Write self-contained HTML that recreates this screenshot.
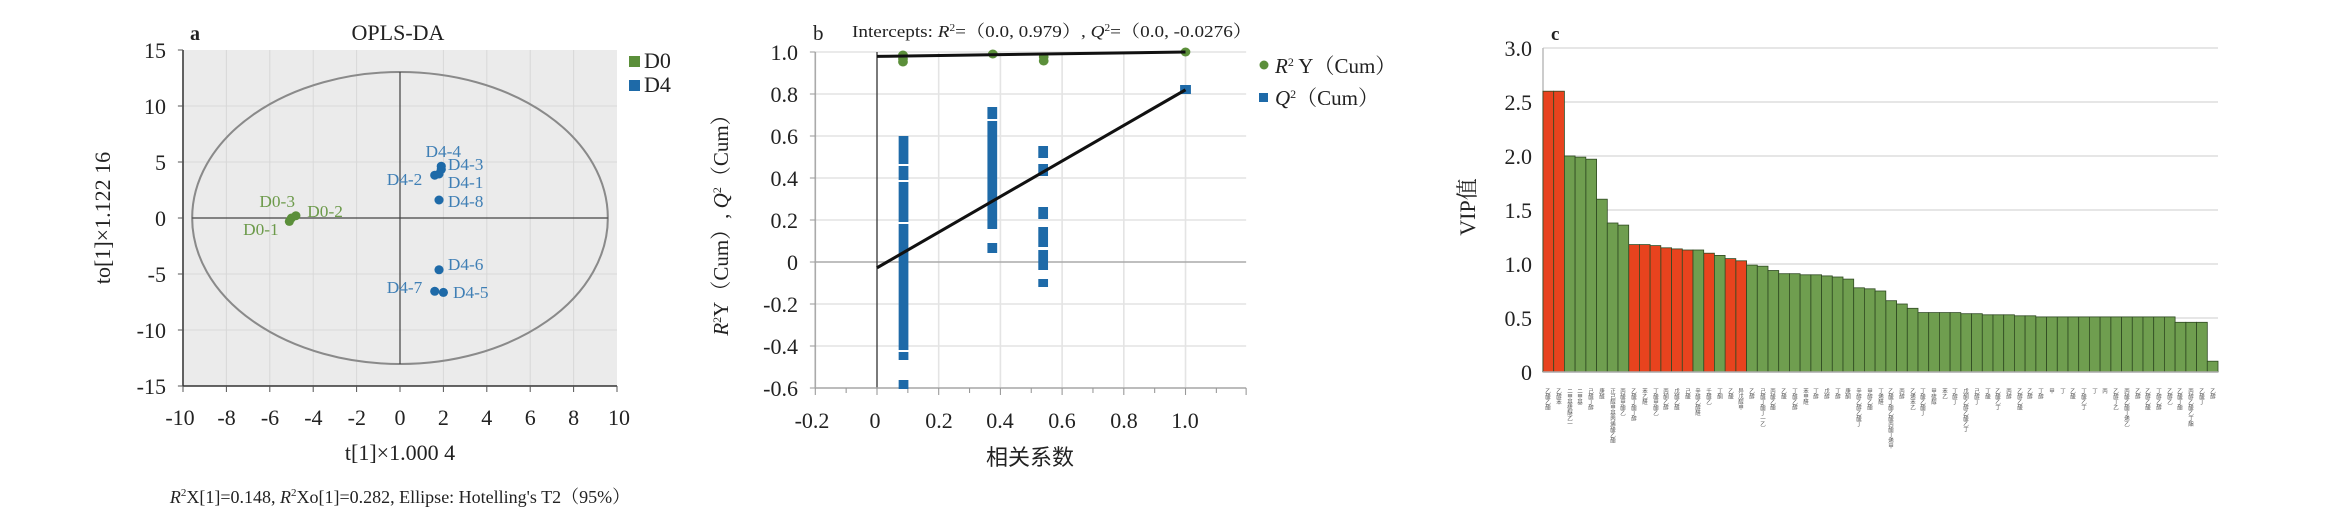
<!DOCTYPE html>
<html><head><meta charset="utf-8"><style>html,body{margin:0;padding:0;background:#fff}svg{display:block}</style></head><body>
<svg width="2330" height="508" viewBox="0 0 2330 508" xmlns="http://www.w3.org/2000/svg" font-family="'Liberation Serif','Noto Serif CJK SC',serif">
<!-- Panel a -->
<g transform="translate(400,0) scale(1.0188,1) translate(-399,0)">
<rect x="186" y="50" width="426" height="336" fill="#ebebeb"/>
<g stroke="#d8d8d8" stroke-width="1">
<line x1="228.6" y1="50" x2="228.6" y2="386"/><line x1="271.2" y1="50" x2="271.2" y2="386"/><line x1="313.8" y1="50" x2="313.8" y2="386"/><line x1="356.4" y1="50" x2="356.4" y2="386"/><line x1="441.6" y1="50" x2="441.6" y2="386"/><line x1="484.2" y1="50" x2="484.2" y2="386"/><line x1="526.8" y1="50" x2="526.8" y2="386"/><line x1="569.4" y1="50" x2="569.4" y2="386"/>
<line x1="186" y1="106" x2="612" y2="106"/><line x1="186" y1="162" x2="612" y2="162"/><line x1="186" y1="274" x2="612" y2="274"/><line x1="186" y1="330" x2="612" y2="330"/>
</g>
<ellipse cx="399" cy="218" rx="204" ry="146" fill="none" stroke="#8a8a8a" stroke-width="2"/>
<line x1="195" y1="218" x2="603" y2="218" stroke="#444" stroke-width="1.2"/>
<line x1="399" y1="72" x2="399" y2="364" stroke="#444" stroke-width="1.2"/>
<line x1="186" y1="50" x2="186" y2="386" stroke="#333" stroke-width="1.5"/>
<line x1="186" y1="386" x2="612" y2="386" stroke="#333" stroke-width="1.5"/>
<g stroke="#555">
<line x1="181" y1="50" x2="186" y2="50"/><line x1="181" y1="106" x2="186" y2="106"/><line x1="181" y1="162" x2="186" y2="162"/><line x1="181" y1="218" x2="186" y2="218"/><line x1="181" y1="274" x2="186" y2="274"/><line x1="181" y1="330" x2="186" y2="330"/><line x1="181" y1="386" x2="186" y2="386"/>
<line x1="186" y1="386" x2="186" y2="392"/><line x1="228.6" y1="386" x2="228.6" y2="392"/><line x1="271.2" y1="386" x2="271.2" y2="392"/><line x1="313.8" y1="386" x2="313.8" y2="392"/><line x1="356.4" y1="386" x2="356.4" y2="392"/><line x1="399" y1="386" x2="399" y2="392"/><line x1="441.6" y1="386" x2="441.6" y2="392"/><line x1="484.2" y1="386" x2="484.2" y2="392"/><line x1="526.8" y1="386" x2="526.8" y2="392"/><line x1="569.4" y1="386" x2="569.4" y2="392"/><line x1="612" y1="386" x2="612" y2="392"/>
</g>
<g fill="#5b8f3a"><circle cx="292.5" cy="218" r="4.5"/><circle cx="296.8" cy="215.7" r="4.5"/><circle cx="290.4" cy="221.4" r="4.5"/></g>
<g fill="#1e6aa8"><circle cx="439.5" cy="166.2" r="4.5"/><circle cx="439.5" cy="169.5" r="4.5"/><circle cx="433.1" cy="175.2" r="4.5"/><circle cx="437.3" cy="174" r="4.5"/><circle cx="437.3" cy="200" r="4.5"/><circle cx="437.3" cy="269.8" r="4.5"/><circle cx="433.1" cy="291.3" r="4.5"/><circle cx="441.6" cy="292.4" r="4.5"/></g>
<g font-size="17" fill="#3f7fb5">
<text x="424" y="157">D4-4</text><text x="446" y="170">D4-3</text><text x="386" y="185">D4-2</text><text x="446" y="188">D4-1</text><text x="446" y="207">D4-8</text><text x="446" y="270">D4-6</text><text x="386" y="293">D4-7</text><text x="451" y="298">D4-5</text>
</g>
<g font-size="17" fill="#6c9a4a"><text x="261" y="207">D0-3</text><text x="308" y="217">D0-2</text><text x="245" y="235">D0-1</text></g>
</g>
<g font-size="22" fill="#222" text-anchor="end">
<text x="166" y="58">15</text><text x="166" y="114">10</text><text x="166" y="170">5</text><text x="166" y="226">0</text><text x="166" y="282">-5</text><text x="166" y="338">-10</text><text x="166" y="394">-15</text>
</g>
<g font-size="22" fill="#222" text-anchor="middle">
<text x="180" y="425">-10</text><text x="226.6" y="425">-8</text><text x="270" y="425">-6</text><text x="313.4" y="425">-4</text><text x="356.8" y="425">-2</text><text x="400" y="425">0</text><text x="443.4" y="425">2</text><text x="486.8" y="425">4</text><text x="530.2" y="425">6</text><text x="573.6" y="425">8</text><text x="619" y="425">10</text>
<text x="400" y="460">t[1]×1.000 4</text>
<text x="398" y="40">OPLS-DA</text>
</g>
<text x="190" y="40" font-size="20" font-weight="bold" fill="#222">a</text>
<text transform="translate(110,218) rotate(-90)" font-size="22" text-anchor="middle" fill="#222">to[1]×1.122 16</text>
<text x="400" y="503" font-size="18" text-anchor="middle" fill="#222"><tspan font-style="italic">R</tspan><tspan font-size="11" dy="-7">2</tspan><tspan dy="7">X[1]=0.148, </tspan><tspan font-style="italic">R</tspan><tspan font-size="11" dy="-7">2</tspan><tspan dy="7">Xo[1]=0.282, Ellipse: Hotelling's T2（95%）</tspan></text>
<rect x="629" y="56" width="11" height="11" fill="#5b8f3a"/><rect x="629" y="80" width="11" height="11" fill="#1e6aa8"/>
<text x="644" y="68" font-size="22" fill="#222">D0</text><text x="644" y="92" font-size="22" fill="#222">D4</text>

<!-- Panel b -->
<g transform="translate(877,0) scale(1.0825,1) translate(-861,0)">
<g stroke="#e4e4e4" stroke-width="1.5">
<line x1="804" y1="52" x2="1202" y2="52"/><line x1="804" y1="94" x2="1202" y2="94"/><line x1="804" y1="136" x2="1202" y2="136"/><line x1="804" y1="178" x2="1202" y2="178"/><line x1="804" y1="220" x2="1202" y2="220"/><line x1="804" y1="304" x2="1202" y2="304"/><line x1="804" y1="346" x2="1202" y2="346"/><line x1="804" y1="388" x2="1202" y2="388"/>
<line x1="918" y1="52" x2="918" y2="388"/><line x1="975" y1="52" x2="975" y2="388"/><line x1="1032" y1="52" x2="1032" y2="388"/><line x1="1089" y1="52" x2="1089" y2="388"/><line x1="1146" y1="52" x2="1146" y2="388"/>
</g>
<line x1="804" y1="262" x2="1202" y2="262" stroke="#aaa" stroke-width="1.5"/>
<line x1="861" y1="52" x2="861" y2="388" stroke="#333" stroke-width="1.2"/>
<line x1="804" y1="52" x2="804" y2="388" stroke="#aaa" stroke-width="1.5"/>
<line x1="804" y1="388" x2="1202" y2="388" stroke="#aaa" stroke-width="1.5"/>
<g stroke="#999"><line x1="799" y1="52" x2="804" y2="52"/><line x1="799" y1="94" x2="804" y2="94"/><line x1="799" y1="136" x2="804" y2="136"/><line x1="799" y1="178" x2="804" y2="178"/><line x1="799" y1="220" x2="804" y2="220"/><line x1="799" y1="262" x2="804" y2="262"/><line x1="799" y1="304" x2="804" y2="304"/><line x1="799" y1="346" x2="804" y2="346"/><line x1="799" y1="388" x2="804" y2="388"/>
<line x1="804" y1="388" x2="804" y2="395"/><line x1="832.5" y1="388" x2="832.5" y2="393"/><line x1="861" y1="388" x2="861" y2="395"/><line x1="889.5" y1="388" x2="889.5" y2="393"/><line x1="918" y1="388" x2="918" y2="395"/><line x1="946.5" y1="388" x2="946.5" y2="393"/><line x1="975" y1="388" x2="975" y2="395"/><line x1="1003.5" y1="388" x2="1003.5" y2="393"/><line x1="1032" y1="388" x2="1032" y2="395"/><line x1="1060.5" y1="388" x2="1060.5" y2="393"/><line x1="1089" y1="388" x2="1089" y2="395"/><line x1="1117.5" y1="388" x2="1117.5" y2="393"/><line x1="1146" y1="388" x2="1146" y2="395"/><line x1="1174.5" y1="388" x2="1174.5" y2="393"/><line x1="1202" y1="388" x2="1202" y2="395"/></g>
<g fill="#1e6aa8">
<rect x="881" y="136" width="9" height="28"/><rect x="881" y="166" width="9" height="14"/><rect x="881" y="182" width="9" height="40"/><rect x="881" y="224" width="9" height="126"/><rect x="881" y="352" width="9" height="8"/><rect x="881" y="380" width="9" height="9"/>
<rect x="963" y="107" width="9" height="12"/><rect x="963" y="121" width="9" height="108"/><rect x="963" y="243" width="9" height="10"/>
<rect x="1010" y="146" width="9" height="12"/><rect x="1010" y="164" width="9" height="12"/><rect x="1010" y="207" width="9" height="12"/><rect x="1010" y="227" width="9" height="20"/><rect x="1010" y="250" width="9" height="20"/><rect x="1010" y="279" width="9" height="8"/>
<rect x="1141" y="85" width="10" height="9"/>
</g>
<g fill="#5b8f3a">
<circle cx="885" cy="55" r="4.5"/><circle cx="885" cy="59" r="4.5"/><circle cx="885" cy="62" r="4.5"/><circle cx="968" cy="54" r="4.5"/><circle cx="1015" cy="57" r="4.5"/><circle cx="1015" cy="61" r="4.5"/><circle cx="1146" cy="52" r="4.5"/>
</g>
<line x1="861" y1="56.4" x2="1146" y2="52" stroke="#111" stroke-width="3"/>
<line x1="861" y1="267.8" x2="1146" y2="89.8" stroke="#111" stroke-width="3"/>
</g>
<g font-size="22" fill="#222" text-anchor="end">
<text x="798" y="60">1.0</text><text x="798" y="102">0.8</text><text x="798" y="144">0.6</text><text x="798" y="186">0.4</text><text x="798" y="228">0.2</text><text x="798" y="270">0</text><text x="798" y="312">-0.2</text><text x="798" y="354">-0.4</text><text x="798" y="396">-0.6</text>
</g>
<g font-size="22" fill="#222" text-anchor="middle">
<text x="812" y="428">-0.2</text><text x="875" y="428">0</text><text x="939" y="428">0.2</text><text x="1000" y="428">0.4</text><text x="1062" y="428">0.6</text><text x="1124" y="428">0.8</text><text x="1185" y="428">1.0</text>
<text x="1030" y="465" font-family="'Noto Sans CJK SC',sans-serif" font-size="22">相关系数</text>
</g>
<text x="813" y="40" font-size="21" fill="#222">b</text>
<text x="852" y="37" font-size="17" fill="#222" textLength="400" lengthAdjust="spacingAndGlyphs">Intercepts: <tspan font-style="italic">R</tspan><tspan font-size="10" dy="-6">2</tspan><tspan dy="6">=（0.0, 0.979）, </tspan><tspan font-style="italic">Q</tspan><tspan font-size="10" dy="-6">2</tspan><tspan dy="6">=（0.0, -0.0276）</tspan></text>
<text transform="translate(728,220) rotate(-90)" font-size="21" text-anchor="middle" fill="#222"><tspan font-style="italic">R</tspan><tspan font-size="12" dy="-7">2</tspan><tspan dy="7">Y（Cum）, </tspan><tspan font-style="italic">Q</tspan><tspan font-size="12" dy="-7">2</tspan><tspan dy="7">（Cum）</tspan></text>
<circle cx="1264" cy="65" r="4.5" fill="#5b8f3a"/><rect x="1259" y="93" width="9" height="9" fill="#1e6aa8"/>
<text x="1275" y="73" font-size="21" fill="#222"><tspan font-style="italic">R</tspan><tspan font-size="12" dy="-7">2</tspan><tspan dy="7"> Y（Cum）</tspan></text>
<text x="1275" y="105" font-size="21" fill="#222"><tspan font-style="italic">Q</tspan><tspan font-size="12" dy="-7">2</tspan><tspan dy="7">（Cum）</tspan></text>

<!-- Panel c -->
<g stroke="#e6e6e6" stroke-width="2">
<line x1="1543" y1="48" x2="2218" y2="48"/><line x1="1543" y1="102" x2="2218" y2="102"/><line x1="1543" y1="156" x2="2218" y2="156"/><line x1="1543" y1="210" x2="2218" y2="210"/><line x1="1543" y1="264" x2="2218" y2="264"/><line x1="1543" y1="318" x2="2218" y2="318"/>
</g>
<line x1="1543" y1="48" x2="1543" y2="372" stroke="#bbb" stroke-width="1.5"/>
<g stroke="#2f4a22" stroke-width="0.8">
<g fill="#e8431e">
<rect x="1543.0" y="91.2" width="10.7" height="280.8"/><rect x="1553.7" y="91.2" width="10.7" height="280.8"/>
<rect x="1628.7" y="244.6" width="10.7" height="127.4"/><rect x="1639.4" y="244.6" width="10.7" height="127.4"/><rect x="1650.1" y="245.6" width="10.7" height="126.4"/><rect x="1660.9" y="247.8" width="10.7" height="124.2"/><rect x="1671.6" y="248.9" width="10.7" height="123.1"/><rect x="1682.3" y="250" width="10.7" height="122"/>
<rect x="1703.7" y="253.2" width="10.7" height="118.8"/>
<rect x="1725.1" y="258.6" width="10.7" height="113.4"/><rect x="1735.9" y="260.8" width="10.7" height="111.2"/>
</g>
<g fill="#6f9e4f">
<rect x="1564.4" y="156" width="10.7" height="216"/><rect x="1575.1" y="157.1" width="10.7" height="214.9"/><rect x="1585.9" y="159.2" width="10.7" height="212.8"/><rect x="1596.6" y="199.2" width="10.7" height="172.8"/><rect x="1607.3" y="223" width="10.7" height="149"/><rect x="1618.0" y="225.1" width="10.7" height="146.9"/>
<rect x="1693.0" y="250" width="10.7" height="122"/><rect x="1714.4" y="255.4" width="10.7" height="116.6"/>
<rect x="1746.6" y="265.1" width="10.7" height="106.9"/><rect x="1757.3" y="266.2" width="10.7" height="105.8"/><rect x="1768.0" y="270.5" width="10.7" height="101.5"/><rect x="1778.7" y="273.7" width="10.7" height="98.3"/><rect x="1789.4" y="273.7" width="10.7" height="98.3"/><rect x="1800.1" y="274.8" width="10.7" height="97.2"/><rect x="1810.9" y="274.8" width="10.7" height="97.2"/><rect x="1821.6" y="275.9" width="10.7" height="96.1"/><rect x="1832.3" y="277" width="10.7" height="95"/><rect x="1843.0" y="279.1" width="10.7" height="92.9"/>
<rect x="1853.7" y="287.8" width="10.7" height="84.2"/><rect x="1864.4" y="288.8" width="10.7" height="83.2"/><rect x="1875.1" y="291" width="10.7" height="81"/><rect x="1885.9" y="300.7" width="10.7" height="71.3"/><rect x="1896.6" y="304" width="10.7" height="68"/><rect x="1907.3" y="308.3" width="10.7" height="63.7"/>
<rect x="1918.0" y="312.6" width="10.7" height="59.4"/><rect x="1928.7" y="312.6" width="10.7" height="59.4"/><rect x="1939.4" y="312.6" width="10.7" height="59.4"/><rect x="1950.1" y="312.6" width="10.7" height="59.4"/><rect x="1960.9" y="313.7" width="10.7" height="58.3"/><rect x="1971.6" y="313.7" width="10.7" height="58.3"/>
<rect x="1982.3" y="314.8" width="10.7" height="57.2"/><rect x="1993.0" y="314.8" width="10.7" height="57.2"/><rect x="2003.7" y="314.8" width="10.7" height="57.2"/>
<rect x="2014.4" y="315.8" width="10.7" height="56.2"/><rect x="2025.1" y="315.8" width="10.7" height="56.2"/>
<rect x="2035.9" y="316.9" width="10.7" height="55.1"/><rect x="2046.6" y="316.9" width="10.7" height="55.1"/><rect x="2057.3" y="316.9" width="10.7" height="55.1"/><rect x="2068.0" y="316.9" width="10.7" height="55.1"/><rect x="2078.7" y="316.9" width="10.7" height="55.1"/><rect x="2089.4" y="316.9" width="10.7" height="55.1"/><rect x="2100.1" y="316.9" width="10.7" height="55.1"/><rect x="2110.9" y="316.9" width="10.7" height="55.1"/><rect x="2121.6" y="316.9" width="10.7" height="55.1"/><rect x="2132.3" y="316.9" width="10.7" height="55.1"/><rect x="2143.0" y="316.9" width="10.7" height="55.1"/><rect x="2153.7" y="316.9" width="10.7" height="55.1"/><rect x="2164.4" y="316.9" width="10.7" height="55.1"/>
<rect x="2175.1" y="322.3" width="10.7" height="49.7"/><rect x="2185.9" y="322.3" width="10.7" height="49.7"/><rect x="2196.6" y="322.3" width="10.7" height="49.7"/><rect x="2207.3" y="361.2" width="10.7" height="10.8"/>
</g>
</g>
<line x1="1543" y1="372" x2="2218" y2="372" stroke="#aaa" stroke-width="1.5"/>
<g font-size="22" fill="#222" text-anchor="end">
<text x="1532" y="56">3.0</text><text x="1532" y="110">2.5</text><text x="1532" y="164">2.0</text><text x="1532" y="218">1.5</text><text x="1532" y="272">1.0</text><text x="1532" y="326">0.5</text><text x="1532" y="380">0</text>
</g>
<text x="1551" y="40" font-size="19" font-weight="bold" fill="#222">c</text>
<text transform="translate(1475,207) rotate(-90)" font-size="22" text-anchor="middle" fill="#222">VIP<tspan font-family="'Noto Serif CJK SC',serif">值</tspan></text>
<g font-size="5.5" fill="#555" font-family="'Noto Sans CJK SC',sans-serif" writing-mode="tb">
<text x="1548" y="388">乙酸乙酯</text><text x="1559" y="388">乙醇苯</text><text x="1570" y="388">二甲基硫醚乙一</text><text x="1580" y="388">二甲基</text><text x="1591" y="388">己醛丁醇</text><text x="1602" y="388">庚醛</text><text x="1613" y="388">正己醇甲基丙烯酸乙酯</text><text x="1623" y="388">丙酸甲酯乙</text><text x="1634" y="388">乙酸丁酯丁醇</text><text x="1645" y="388">苯乙醛</text><text x="1656" y="388">丁酸甲酯乙</text><text x="1666" y="388">丙酮乙醇</text><text x="1677" y="388">戊醛乙醛</text><text x="1688" y="388">己酸</text><text x="1698" y="388">辛醛乙醇醛</text><text x="1709" y="388">壬醛乙</text><text x="1720" y="388">丁酮</text><text x="1731" y="388">乙酸</text><text x="1741" y="388">异戊醇甲</text><text x="1752" y="388">乙醇</text><text x="1763" y="388">己醛丁酯丁一乙</text><text x="1773" y="388">丙酸乙酯</text><text x="1784" y="388">乙酸</text><text x="1795" y="388">丁醛乙醇</text><text x="1806" y="388">苯甲醛</text><text x="1816" y="388">丁醇</text><text x="1827" y="388">戊醇</text><text x="1838" y="388">丁醇</text><text x="1848" y="388">庚酮</text><text x="1859" y="388">辛醇乙醇乙酸丁</text><text x="1870" y="388">甲醇乙酯</text><text x="1881" y="388">丁烯醛</text><text x="1891" y="388">乙酸丁酯乙酸丙酯丁烯甲</text><text x="1902" y="388">丙醇</text><text x="1913" y="388">乙烯苯乙</text><text x="1923" y="388">丁酸乙酯丁</text><text x="1934" y="388">甲硫醇</text><text x="1945" y="388">苯乙</text><text x="1955" y="388">丁醇丁</text><text x="1966" y="388">戊酮乙醇乙酸乙丁</text><text x="1977" y="388">己醇丁</text><text x="1988" y="388">丁酸</text><text x="1998" y="388">乙酸乙丁</text><text x="2009" y="388">丙醇</text><text x="2020" y="388">乙醇乙酸</text><text x="2030" y="388">乙醇</text><text x="2041" y="388">丁醇</text><text x="2052" y="388">甲</text><text x="2063" y="388">丁</text><text x="2073" y="388">乙酸</text><text x="2084" y="388">丁酸乙丁</text><text x="2095" y="388">丁</text><text x="2105" y="388">丙</text><text x="2116" y="388">乙醇丁乙</text><text x="2127" y="388">丙酸乙酯丁烯乙</text><text x="2138" y="388">乙醇</text><text x="2148" y="388">乙醇乙酸</text><text x="2159" y="388">丁醇乙醇</text><text x="2170" y="388">乙醇乙</text><text x="2180" y="388">乙酸丁酯</text><text x="2191" y="388">丙醇乙酸乙丁酯</text><text x="2202" y="388">乙酸丁</text><text x="2213" y="388">乙醇</text>
</g>
</svg>
</body></html>
